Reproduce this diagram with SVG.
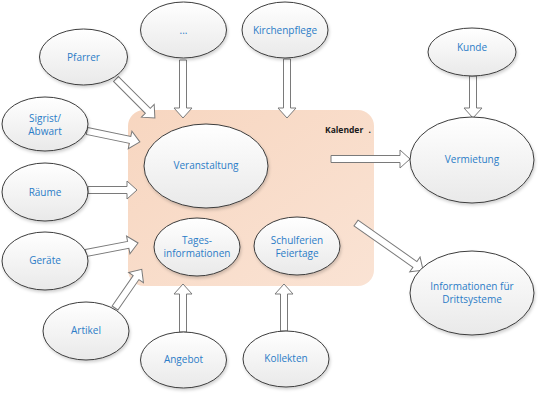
<svg xmlns="http://www.w3.org/2000/svg" width="538" height="394" viewBox="0 0 538 394">
<style>
.n{fill:url(#eg);stroke:#3c3c3c;stroke-width:1;filter:url(#sh)}
.t{font-family:"Open Sans","Liberation Sans",sans-serif;font-size:10px;fill:#2b7cc7;text-anchor:middle}
.a{fill:#fff;stroke:#7a7a7a;stroke-width:1}
</style>
<defs>
<linearGradient id="eg" x1="0" y1="0" x2="0" y2="1">
<stop offset="0" stop-color="#ffffff"/>
<stop offset="1" stop-color="#e9e9e9"/>
</linearGradient>
<linearGradient id="cg" x1="0" y1="0" x2="1" y2="1">
<stop offset="0" stop-color="#f7d6c0"/>
<stop offset="1" stop-color="#fae3d4"/>
</linearGradient>
<filter id="sh" x="-20%" y="-20%" width="140%" height="150%">
<feDropShadow dx="1" dy="2" stdDeviation="1.5" flood-color="#000" flood-opacity="0.18"/>
</filter>
</defs>
<g id="kalender">
<rect x="128" y="110" width="246" height="176" rx="16" fill="url(#cg)"/>
<text x="325" y="133" font-family="'Open Sans','Liberation Sans',sans-serif" font-size="8.5" font-weight="bold" fill="#1a1a1a">Kalender<tspan x="368.5">.</tspan></text>
</g>
<g id="connectors">
<path class="a" d="M0,-3.5H48V-9L58,0L48,9V3.5H0Z" transform="translate(183,60) rotate(90)"/>
<path class="a" d="M0,-3.5H49V-9L59,0L49,9V3.5H0Z" transform="translate(287,59) rotate(90)"/>
<path class="a" d="M0,-3.5H32V-9L42,0L32,9V3.5H0Z" transform="translate(473,76) rotate(90)"/>
<path class="a" d="M0,-3.5H45V-9L55,0L45,9V3.5H0Z" transform="translate(116,79) rotate(45)"/>
<path class="a" d="M0,-3.5H44V-9L54,0L44,9V3.5H0Z" transform="translate(87,131) rotate(11.7)"/>
<path class="a" d="M0,-3.5H39V-9L49,0L39,9V3.5H0Z" transform="translate(88,190)"/>
<path class="a" d="M0,-3.5H43V-9L53,0L43,9V3.5H0Z" transform="translate(86,253) rotate(-10.9)"/>
<path class="a" d="M0,-3.5H37V-9L47,0L37,9V3.5H0Z" transform="translate(115,308) rotate(-55.3)"/>
<path class="a" d="M0,-3.5H38V-9L48,0L38,9V3.5H0Z" transform="translate(183,332) rotate(-90)"/>
<path class="a" d="M0,-3.5H37V-9L47,0L37,9V3.5H0Z" transform="translate(284,331) rotate(-90)"/>
<path class="a" d="M0,-3.5H69V-9L79,0L69,9V3.5H0Z" transform="translate(331,159)"/>
<path class="a" d="M0,-3.5H72V-9L82,0L72,9V3.5H0Z" transform="translate(356,223) rotate(35.1)"/>
</g>
<g id="dots"><ellipse class="n" cx="183.5" cy="30" rx="43" ry="28"/><text class="t" x="183.5" y="34">...</text></g>
<g id="kirchenpflege"><ellipse class="n" cx="285" cy="30" rx="43" ry="28"/><text class="t" x="285" y="34">Kirchenpflege</text></g>
<g id="pfarrer"><ellipse class="n" cx="83.5" cy="57" rx="44" ry="28"/><text class="t" x="83.5" y="61">Pfarrer</text></g>
<g id="kunde"><ellipse class="n" cx="472" cy="52" rx="44" ry="24"/><text class="t" x="472" y="51">Kunde</text></g>
<g id="sigrist"><ellipse class="n" cx="45" cy="124" rx="43" ry="27"/><text class="t" x="45" y="122">Sigrist/</text><text class="t" x="45" y="135">Abwart</text></g>
<g id="veranstaltung"><ellipse class="n" cx="206" cy="166" rx="62" ry="42"/><text class="t" x="206" y="169">Veranstaltung</text></g>
<g id="vermietung"><ellipse class="n" cx="472" cy="160" rx="62" ry="43"/><text class="t" x="472" y="163">Vermietung</text></g>
<g id="raeume"><ellipse class="n" cx="45" cy="192" rx="43" ry="29"/><text class="t" x="45" y="196">Räume</text></g>
<g id="tagesinfo"><ellipse class="n" cx="197" cy="247" rx="43" ry="29"/><text class="t" x="197" y="244">Tages-</text><text class="t" x="197" y="257">informationen</text></g>
<g id="schulferien"><ellipse class="n" cx="297" cy="246" rx="43" ry="29"/><text class="t" x="297" y="244">Schulferien</text><text class="t" x="297" y="257">Feiertage</text></g>
<g id="geraete"><ellipse class="n" cx="45" cy="261" rx="43" ry="29"/><text class="t" x="45" y="264">Geräte</text></g>
<g id="drittsysteme"><ellipse class="n" cx="472" cy="293" rx="62" ry="42"/><text class="t" x="472" y="290">Informationen für</text><text class="t" x="472" y="303">Drittsysteme</text></g>
<g id="artikel"><ellipse class="n" cx="86" cy="331" rx="43" ry="29"/><text class="t" x="86" y="334">Artikel</text></g>
<g id="angebot"><ellipse class="n" cx="183.5" cy="360" rx="43" ry="28"/><text class="t" x="183.5" y="363">Angebot</text></g>
<g id="kollekten"><ellipse class="n" cx="286" cy="359" rx="43" ry="28"/><text class="t" x="286" y="362">Kollekten</text></g>
</svg>
